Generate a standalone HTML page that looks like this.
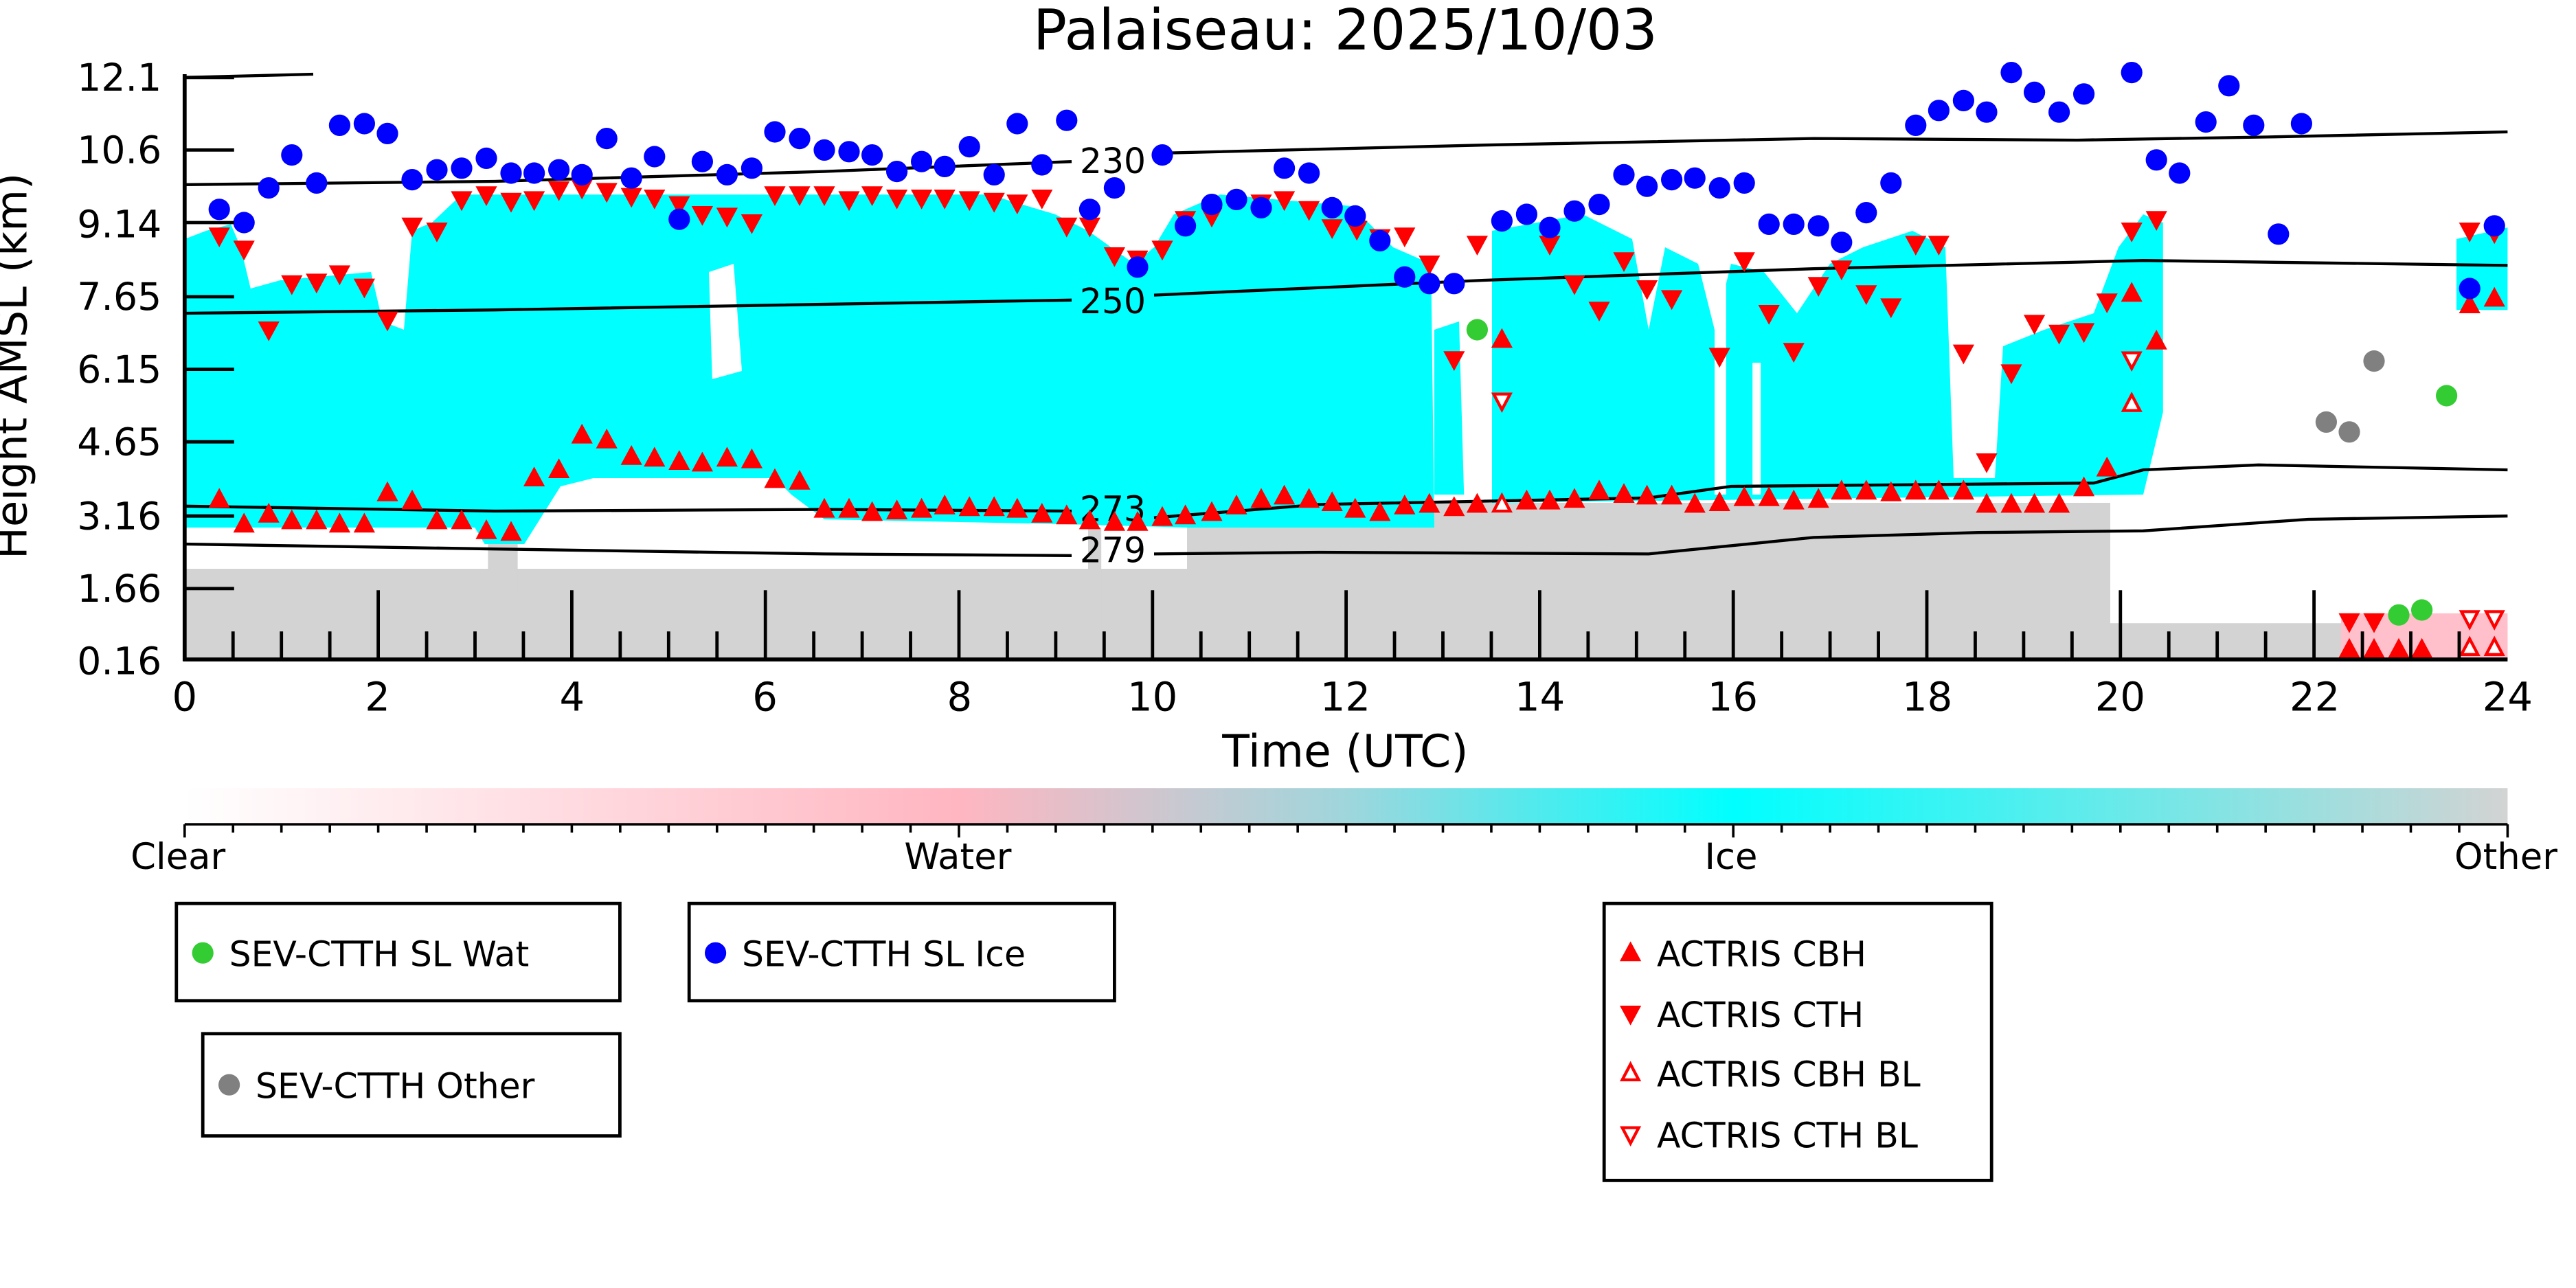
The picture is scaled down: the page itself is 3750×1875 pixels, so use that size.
<!DOCTYPE html>
<html><head><meta charset="utf-8">
<style>
html,body{margin:0;padding:0;background:#fff;}
svg{display:block;}
text{font-family:"DejaVu Sans","Liberation Sans",sans-serif;}
</style></head>
<body>
<svg id="s" xmlns="http://www.w3.org/2000/svg" width="3750" height="1875" viewBox="0 0 1562.5 781.25">
<defs>
<path id="up" d="M0,-7 L6.5,5 L-6.5,5Z" fill="#ff0000"/>
<path id="dn" d="M0,7 L6.5,-5 L-6.5,-5Z" fill="#ff0000"/>
<path id="uph" d="M0,-5.5 L5,4 L-5,4Z" fill="#fff" stroke="#ff0000" stroke-width="1.8"/>
<path id="dnh" d="M0,5.5 L5,-4 L-5,-4Z" fill="#fff" stroke="#ff0000" stroke-width="1.8"/>
<linearGradient id="cb" x1="0" x2="1" y1="0" y2="0">
<stop offset="0" stop-color="#ffffff"/>
<stop offset="0.333" stop-color="#ffb6c1"/>
<stop offset="0.5" stop-color="#9fd6dc"/>
<stop offset="0.667" stop-color="#00ffff"/>
<stop offset="1" stop-color="#d3d3d3"/>
</linearGradient>
</defs>
<rect width="1562.5" height="781.25" fill="#fff"/>
<text x="816" y="30" font-size="34" text-anchor="middle">Palaiseau: 2025/10/03</text>

<g fill="#d3d3d3">
<rect x="112" y="345" width="1168" height="55"/>
<rect x="720" y="305" width="560" height="95"/>
<rect x="1280" y="378" width="241" height="22"/>
<rect x="296" y="320" width="18" height="40"/>
<rect x="660" y="320" width="8" height="60"/>
</g>
<rect x="1420" y="372" width="101" height="28" fill="#ffc0cb"/>
<g fill="#00ffff">
<polygon points="112,145 125,140 140,136 146,150 152,175 170,170 225,165 232,195 245,200 250,140 262,135 280,118 600,118 640,130 660,140 688,160 700,150 712,130 740,118 820,125 845,150 868,160 870,320 720,320 650,318 500,315 480,300 470,290 360,290 340,295 318,330 294,330 288,320 112,320"/>
<polygon points="870,200 885,195 888,300 870,300"/>
<polygon points="905,140 960,130 990,145 1000,200 1010,150 1030,160 1040,200 1050,160 1070,165 1090,190 1110,160 1130,150 1160,140 1180,150 1185,290 1210,290 1215,210 1240,200 1270,190 1285,150 1300,130 1312,135 1312,250 1300,300 905,305"/>
<polygon points="1490,145 1521,138 1521,188 1490,188"/>
</g>
<g fill="#ffffff">
<polygon points="430,165 445,160 450,225 432,230"/>
<rect x="1040" y="150" width="7" height="150"/>
<rect x="1063" y="220" width="5" height="80"/>
</g>

<g fill="none" stroke="#000" stroke-width="1.8">
<polyline points="112,47 190,45"/>
<polyline points="112,112 300,110 500,104 650,98"/>
<polyline points="700,93 900,88 1100,84 1260,85 1380,83 1521,80"/>
<polyline points="112,190 300,188 650,182"/>
<polyline points="700,179 900,170 1100,163 1300,158 1521,161"/>
<polyline points="112,307 300,310 500,309 650,310"/>
<polyline points="700,314 800,306 1000,302 1050,295 1270,293 1300,285 1370,282 1521,285"/>
<polyline points="112,330 300,333 500,336 650,337"/>
<polyline points="700,336 800,335 1000,336 1100,326 1200,323 1300,322 1400,315 1521,313"/>
</g>
<g font-size="21" text-anchor="middle">
<text x="675" y="105">230</text>
<text x="675" y="190">250</text>
<text x="675" y="316">273</text>
<text x="675" y="341">279</text>
</g>

<g id="markers"></g>

<g stroke="#000" stroke-width="2.4">
<line x1="112" y1="45" x2="112" y2="401"/>
<line x1="111" y1="400" x2="1521" y2="400"/>
</g>
<g id="ticks" stroke="#000" stroke-width="2"></g>
<g font-size="23" text-anchor="end">
<text x="98" y="55">12.1</text>
<text x="98" y="99">10.6</text>
<text x="98" y="144">9.14</text>
<text x="98" y="188">7.65</text>
<text x="98" y="232">6.15</text>
<text x="98" y="276">4.65</text>
<text x="98" y="321">3.16</text>
<text x="98" y="365">1.66</text>
<text x="98" y="409">0.16</text>
</g>
<g font-size="24" text-anchor="middle">
<text x="112" y="431">0</text><text x="229" y="431">2</text><text x="347" y="431">4</text>
<text x="464" y="431">6</text><text x="582" y="431">8</text><text x="699" y="431">10</text>
<text x="816" y="431">12</text><text x="934" y="431">14</text><text x="1051" y="431">16</text>
<text x="1169" y="431">18</text><text x="1286" y="431">20</text><text x="1404" y="431">22</text>
<text x="1521" y="431">24</text>
</g>
<text x="816" y="465" font-size="27" text-anchor="middle">Time (UTC)</text>
<text transform="translate(16,222) rotate(-90)" font-size="26" text-anchor="middle">Height AMSL (km)</text>

<rect x="112" y="478" width="1409" height="22" fill="url(#cb)"/>
<line x1="112" y1="500" x2="1521" y2="500" stroke="#000" stroke-width="1.5"/>
<g id="cbt" stroke="#000" stroke-width="1.5"></g>
<g font-size="22" text-anchor="middle">
<text x="108" y="527">Clear</text><text x="581" y="527">Water</text>
<text x="1050" y="527">Ice</text><text x="1520" y="527">Other</text>
</g>

<g fill="none" stroke="#000" stroke-width="2">
<rect x="107" y="548" width="269" height="59"/>
<rect x="418" y="548" width="258" height="59"/>
<rect x="123" y="627" width="253" height="62"/>
<rect x="973" y="548" width="235" height="168"/>
</g>
<circle cx="123" cy="578" r="6.5" fill="#33cc33"/>
<circle cx="434" cy="578" r="6.5" fill="#0000ff"/>
<circle cx="139" cy="658" r="6.5" fill="#808080"/>
<use href="#up" x="989" y="578"/>
<use href="#dn" x="989" y="615"/>
<use href="#uph" x="989" y="651"/>
<use href="#dnh" x="989" y="688"/>
<g font-size="21">
<text x="139" y="586">SEV-CTTH SL Wat</text>
<text x="450" y="586">SEV-CTTH SL Ice</text>
<text x="155" y="666">SEV-CTTH Other</text>
<text x="1005" y="586">ACTRIS CBH</text>
<text x="1005" y="623">ACTRIS CTH</text>
<text x="1005" y="659">ACTRIS CBH BL</text>
<text x="1005" y="696">ACTRIS CTH BL</text>
</g>

<script>
var NS="http://www.w3.org/2000/svg";
var m=document.getElementById("markers");
function c(x,y,col){var e=document.createElementNS(NS,"circle");e.setAttribute("cx",x);e.setAttribute("cy",y);e.setAttribute("r",6.5);e.setAttribute("fill",col);m.appendChild(e);}
function u(id,x,y){var e=document.createElementNS(NS,"use");e.setAttribute("href","#"+id);e.setAttribute("x",x);e.setAttribute("y",y);m.appendChild(e);}
var dn=[[133,143],[148,151],[163,200],[177,172],[192,171],[206,166],[221,174],[235,194],[250,137],[265,140],[280,121],[295,118],[310,122],[324,121],[339,115],[353,114],[368,116],[383,119],[397,120],[412,124],[426,130],[441,131],[456,135],[470,118],[485,118],[500,118],[515,121],[529,118],[544,120],[559,120],[573,120],[588,121],[603,122],[617,123],[632,120],[647,137],[661,137],[676,155],[690,157],[705,151],[719,133],[735,131],[765,123],[779,121],[794,127],[808,138],[823,139],[837,144],[852,143],[867,160],[882,218],[896,148],[940,148],[955,172],[970,188],[985,158],[999,175],[1014,181],[1043,216],[1058,158],[1073,190],[1088,213],[1103,173],[1117,163],[1132,178],[1147,186],[1162,148],[1176,148],[1191,214],[1205,280],[1220,226],[1234,196],[1249,202],[1264,201],[1278,183],[1293,140],[1308,133],[1498,140],[1513,141],[1425,377],[1440,377]];
var up=[[133,303],[148,318],[163,312],[177,316],[192,316],[206,318],[221,318],[235,299],[250,304],[265,316],[280,316],[295,322],[310,323],[324,290],[339,285],[353,264],[368,267],[383,277],[397,278],[412,280],[426,281],[441,278],[456,279],[470,291],[485,292],[500,309],[515,309],[529,311],[544,310],[559,309],[573,307],[588,308],[603,308],[617,309],[632,312],[647,313],[661,316],[676,317],[690,317],[705,314],[719,313],[735,311],[750,307],[765,303],[779,301],[794,303],[808,305],[822,309],[837,311],[852,307],[867,306],[882,308],[896,306],[911,206],[926,304],[940,304],[955,303],[970,298],[985,300],[999,301],[1014,301],[1028,306],[1043,305],[1058,302],[1073,302],[1088,304],[1103,303],[1117,298],[1132,298],[1147,299],[1162,298],[1176,298],[1191,298],[1205,306],[1220,306],[1234,306],[1249,306],[1264,296],[1278,284],[1293,178],[1308,207],[1498,185],[1513,181],[1425,394],[1440,394],[1455,394],[1469,394]];
var bl=[[133,127],[148,135],[163,114],[177,94],[192,111],[206,76],[221,75],[235,81],[250,109],[265,103],[280,102],[295,96],[310,105],[324,105],[339,103],[353,106],[368,84],[383,108],[397,95],[412,133],[426,98],[441,106],[456,102],[470,80],[485,84],[500,91],[515,92],[529,94],[544,104],[559,98],[573,101],[588,89],[603,106],[617,75],[632,100],[647,73],[661,127],[676,114],[690,162],[705,94],[719,137],[735,124],[750,121],[765,126],[779,102],[794,105],[808,126],[822,131],[837,146],[852,168],[867,172],[882,172],[911,134],[926,130],[940,138],[955,128],[970,124],[985,106],[999,113],[1014,109],[1028,108],[1043,114],[1058,111],[1073,136],[1088,136],[1103,137],[1117,147],[1132,129],[1147,111],[1162,76],[1176,67],[1191,61],[1205,68],[1220,44],[1234,56],[1249,68],[1264,57],[1293,44],[1308,97],[1322,105],[1338,74],[1352,52],[1367,76],[1382,142],[1396,75],[1498,175],[1513,137]];
dn.forEach(function(p){u("dn",p[0],p[1]);});
up.forEach(function(p){u("up",p[0],p[1]);});
[[911,243],[1293,218],[1498,375],[1513,375]].forEach(function(p){u("dnh",p[0],p[1]);});
[[911,306],[1293,245],[1498,393],[1513,393]].forEach(function(p){u("uph",p[0],p[1]);});
bl.forEach(function(p){c(p[0],p[1],"#0000ff");});
[[896,200],[1455,373],[1469,370],[1484,240]].forEach(function(p){c(p[0],p[1],"#33cc33");});
[[1411,256],[1425,262],[1440,219]].forEach(function(p){c(p[0],p[1],"#808080");});
var t=document.getElementById("ticks");
function l(g,x1,y1,x2,y2){var e=document.createElementNS(NS,"line");e.setAttribute("x1",x1);e.setAttribute("y1",y1);e.setAttribute("x2",x2);e.setAttribute("y2",y2);g.appendChild(e);}
for(var i=1;i<48;i++){var x=112+i*1409/48;l(t,x,400,x,(i%4==0)?358:383);}
[47,91,135,180,224,268,313,357].forEach(function(y){l(t,112,y,142,y);});
var cbt=document.getElementById("cbt");
for(var i=0;i<=48;i++){var x=112+i*1409/48;l(cbt,x,500,x,(i%16==0)?508:505);}
</script>
</svg>
</body></html>
